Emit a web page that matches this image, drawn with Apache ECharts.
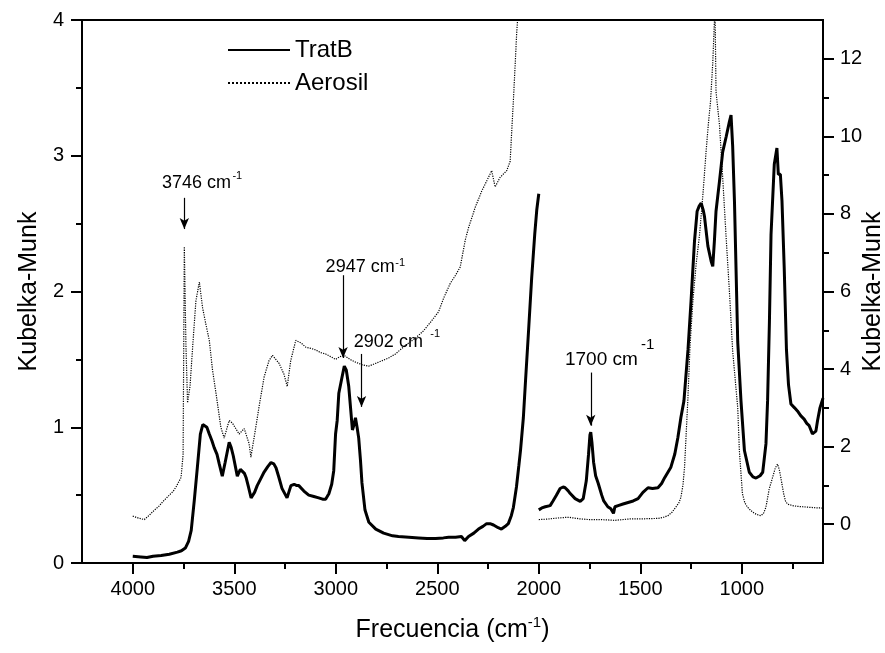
<!DOCTYPE html>
<html><head><meta charset="utf-8">
<script src="https://cdn.jsdelivr.net/npm/echarts@6/dist/echarts.min.js"></script>
<style>html,body{margin:0;padding:0;background:#fff}#c{width:885px;height:653px}</style>
</head><body><div id="c"></div>
<script>
// ---- TratB, 4000-2000 cm-1 (left axis)
const tratbHighWn = [4000,3960,3930,3900,3860,3820,3780,3760,3741,3725,3712,3697,3682,3667,3655,3648,3635,3623,3610,3599,3585,3574,3559,3545,3525,3515,3505,3485,3470,3462,3450,3442,3430,3417,3400,3387,3370,3353,3335,3319,3305,3294,3280,3265,3240,3221,3205,3192,3182,3157,3133,3108,3084,3065,3050,3034,3020,3010,3001,2993,2985,2969,2958,2948,2936,2918,2910,2903,2895,2887,2878,2871,2856,2837,2803,2764,2720,2691,2640,2592,2550,2508,2470,2444,2410,2381,2365,2346,2320,2297,2275,2257,2240,2223,2200,2184,2165,2150,2135,2125,2110,2098,2090,2076,2065,2050,2035,2020,2010,2000];
const tratbHighKM = [0.05,0.045,0.04,0.05,0.055,0.065,0.08,0.09,0.11,0.16,0.24,0.46,0.70,0.95,1.02,1.03,1.0,0.95,0.9,0.85,0.8,0.73,0.64,0.74,0.89,0.85,0.79,0.64,0.69,0.70,0.66,0.63,0.56,0.48,0.52,0.57,0.62,0.67,0.71,0.74,0.73,0.70,0.63,0.55,0.48,0.57,0.58,0.57,0.57,0.53,0.50,0.49,0.48,0.47,0.47,0.51,0.58,0.68,0.95,1.05,1.25,1.37,1.45,1.42,1.30,0.98,1.02,1.07,1.0,0.92,0.75,0.59,0.39,0.30,0.25,0.22,0.20,0.195,0.19,0.185,0.18,0.18,0.185,0.19,0.19,0.195,0.165,0.195,0.22,0.25,0.27,0.29,0.29,0.28,0.26,0.25,0.27,0.29,0.35,0.41,0.56,0.72,0.83,1.07,1.35,1.72,2.1,2.42,2.6,2.72];
// ---- TratB, 2000-600 cm-1 (right axis)
const tratbLowWn = [2000,1985,1968,1944,1930,1914,1895,1880,1870,1855,1845,1821,1796,1781,1766,1755,1748,1744,1738,1730,1720,1707,1690,1680,1660,1645,1632,1625,1609,1585,1560,1535,1511,1487,1462,1440,1413,1395,1380,1350,1330,1315,1300,1285,1265,1250,1233,1220,1210,1200,1190,1184,1167,1151,1143,1135,1127,1110,1094,1077,1061,1053,1045,1036,1028,1020,1004,987,963,945,930,910,897,881,873,864,856,840,827,820,810,802,791,780,770,758,740,726,710,693,680,668,652,644,635,627,615,600];
const tratbLowKM = [0.37,0.42,0.45,0.48,0.6,0.74,0.92,0.96,0.94,0.86,0.79,0.66,0.59,0.66,1.12,1.8,2.3,2.37,2.1,1.6,1.25,1.05,0.75,0.6,0.45,0.4,0.28,0.45,0.48,0.52,0.56,0.6,0.66,0.82,0.94,0.92,0.94,1.05,1.2,1.46,1.81,2.23,2.75,3.18,4.5,5.75,7.3,8.07,8.2,8.28,8.1,7.94,7.17,6.78,6.65,7.3,8.07,8.84,9.6,9.99,10.38,10.55,9.75,8.3,6.5,4.7,3.18,1.9,1.34,1.22,1.19,1.25,1.34,2.07,3.18,5.2,7.47,9.28,9.7,9.02,9.02,8.33,6.6,4.5,3.6,3.1,3.0,2.92,2.8,2.71,2.6,2.54,2.33,2.36,2.4,2.67,3.0,3.25];
// ---- Aerosil, 4000-2090 cm-1 (left axis)
const aeroHighWn = [4000,3970,3943,3920,3893,3870,3853,3820,3800,3787,3762,3752,3746,3738,3730,3718,3705,3689,3672,3656,3640,3623,3607,3590,3566,3550,3525,3509,3476,3451,3427,3418,3394,3378,3353,3329,3312,3279,3255,3239,3222,3197,3170,3148,3120,3099,3075,3050,3025,3001,2980,2960,2930,2903,2870,2838,2805,2772,2740,2706,2675,2641,2605,2568,2530,2494,2469,2436,2410,2387,2362,2346,2313,2281,2248,2232,2215,2191,2158,2141,2134,2125,2117,2109,2100,2090];
const aeroHighKM = [0.345,0.33,0.32,0.35,0.39,0.42,0.45,0.50,0.53,0.56,0.63,0.8,2.33,1.6,1.18,1.3,1.59,1.93,2.07,1.88,1.76,1.64,1.42,1.25,1.0,0.92,1.05,1.03,0.95,0.99,0.88,0.78,1.0,1.15,1.37,1.49,1.53,1.47,1.39,1.30,1.49,1.64,1.62,1.59,1.58,1.57,1.55,1.54,1.52,1.50,1.52,1.53,1.5,1.48,1.46,1.45,1.47,1.49,1.51,1.54,1.58,1.62,1.66,1.71,1.78,1.85,1.95,2.06,2.12,2.18,2.38,2.47,2.62,2.74,2.84,2.89,2.77,2.84,2.89,2.96,3.16,3.41,3.65,3.90,4.1,4.4];
// ---- Aerosil, 2000-600 cm-1 (right axis)
const aeroLowWn = [2000,1960,1905,1855,1800,1757,1707,1660,1625,1545,1480,1413,1385,1364,1345,1325,1310,1300,1290,1282,1274,1266,1255,1241,1225,1208,1190,1176,1165,1154,1143,1135,1132,1127,1110,1094,1078,1061,1045,1020,1012,997,985,972,955,938,920,906,893,881,865,848,835,824,815,808,794,785,775,750,726,700,678,650,628,610,600];
const aeroLowKM = [0.12,0.13,0.16,0.18,0.14,0.12,0.12,0.11,0.10,0.14,0.14,0.15,0.18,0.22,0.3,0.44,0.55,0.69,1.0,1.47,2.33,3.18,4.6,5.75,6.7,7.47,8.6,9.6,10.3,10.9,11.9,12.95,13.4,11.15,10.3,8.93,7.47,6.0,4.47,3.0,1.9,0.79,0.55,0.44,0.35,0.28,0.24,0.22,0.28,0.44,0.91,1.21,1.45,1.55,1.4,1.21,0.79,0.6,0.52,0.48,0.46,0.45,0.44,0.43,0.42,0.42,0.41];
// ---- ticks
const xMajorTicks = [1000,1500,2000,2500,3000,3500,4000];
const xMinorTicks = [750,1250,1750,2250,2750,3250,3750];
const rightMajorTicks = [0,2,4,6,8,10,12];
const rightMinorTicks = [1,3,5,7,9,11];
const seriesNames = ['TratB','Aerosil'];

const zip = (a,b) => a.map((v,i)=>[v,b[i]]);
const FONT = "'Liberation Sans', Arial, Helvetica, sans-serif";
const black = '#000';
const plain = v => String(v);

const chart = echarts.init(document.getElementById('c'), null, {renderer:'canvas'});
const thick = {color:black, width:3};
const dotted = {color:black, width:1.2, type:'dotted'};
const arrowStyle = {silent:true, symbol:['none','arrow'], symbolSize:[7,11], lineStyle:{color:black,width:1.2,type:'solid'}, label:{show:false}, emphasis:{disabled:true}};

chart.setOption({
  animation:false,
  backgroundColor:'#fff',
  textStyle:{fontFamily:FONT, color:black},
  grid:{left:82, right:62, top:20, bottom:90, outerBoundsMode:'none', containLabel:false, show:true, borderColor:black, borderWidth:2, backgroundColor:'transparent'},
  legend:{data:seriesNames, orient:'vertical', left:222, top:33, itemWidth:62, itemHeight:14, itemGap:9,
    itemStyle:{opacity:0, borderWidth:0},
    textStyle:{fontSize:24, color:black, fontFamily:FONT}, selectedMode:false},
  xAxis:[
    {type:'value', min:600, max:4250, inverse:true, position:'bottom',
     axisLine:{show:true, onZero:false, lineStyle:{color:black,width:2}},
     axisTick:{show:true, customValues:xMajorTicks, length:11, lineStyle:{color:black,width:2}},
     axisLabel:{customValues:xMajorTicks, formatter:plain, fontSize:20, color:black, margin:16, fontFamily:FONT},
     splitLine:{show:false},
     name:'{a|Frecuencia (cm}{s|-1}{a|)}', nameLocation:'middle', nameGap:52,
     nameTextStyle:{rich:{a:{fontSize:25, lineHeight:30, color:black, fontFamily:FONT}, s:{fontSize:15, lineHeight:14, verticalAlign:'top', color:black, fontFamily:FONT}}}},
    {type:'value', min:600, max:4250, inverse:true, position:'bottom',
     axisLine:{show:false, onZero:false},
     axisTick:{show:true, customValues:xMinorTicks, length:6, lineStyle:{color:black,width:2}},
     axisLabel:{show:false}, splitLine:{show:false}}
  ],
  yAxis:[
    {type:'value', min:0, max:4, interval:1, position:'left',
     axisLine:{show:true, onZero:false, lineStyle:{color:black,width:2}},
     axisTick:{show:true, length:11, lineStyle:{color:black,width:2}},
     minorTick:{show:true, splitNumber:2, length:6, lineStyle:{color:black,width:2}},
     axisLabel:{formatter:plain, fontSize:20, color:black, margin:18, fontFamily:FONT},
     splitLine:{show:false},
     name:'Kubelka-Munk', nameLocation:'middle', nameGap:39, nameRotate:90,
     nameTextStyle:{fontSize:25, color:black, fontFamily:FONT}},
    {type:'value', min:-1, max:13, position:'right',
     axisLine:{show:true, onZero:false, lineStyle:{color:black,width:2}},
     axisTick:{show:true, customValues:rightMajorTicks, length:11, lineStyle:{color:black,width:2}},
     axisLabel:{customValues:rightMajorTicks, formatter:plain, fontSize:20, color:black, margin:17, fontFamily:FONT},
     splitLine:{show:false}},
    {type:'value', min:-1, max:13, position:'right',
     axisLine:{show:false, onZero:false},
     axisTick:{show:true, customValues:rightMinorTicks, length:6, lineStyle:{color:black,width:2}},
     axisLabel:{show:false}, splitLine:{show:false}}
  ],
  series:[
    {name:'TratB', type:'line', xAxisIndex:0, yAxisIndex:0, data:zip(tratbHighWn,tratbHighKM), symbol:'none', lineStyle:thick, itemStyle:{color:black}, z:3,
     markLine:Object.assign({data:[
       [{coord:[3746,2.69]},{coord:[3746,2.46]}],
       [{coord:[2964,2.12]},{coord:[2964,1.51]}],
       [{coord:[2873,1.54]},{coord:[2873,1.15]}]
     ]}, arrowStyle)},
    {name:'TratB', type:'line', xAxisIndex:0, yAxisIndex:1, data:zip(tratbLowWn,tratbLowKM), symbol:'none', lineStyle:thick, itemStyle:{color:black}, z:3,
     markLine:Object.assign({data:[
       [{coord:[1744,3.91]},{coord:[1744,2.54]}]
     ]}, arrowStyle)},
    {name:'Aerosil', type:'line', xAxisIndex:0, yAxisIndex:0, data:zip(aeroHighWn,aeroHighKM), symbol:'none', lineStyle:dotted, itemStyle:{color:black}, z:2},
    {name:'Aerosil', type:'line', xAxisIndex:0, yAxisIndex:1, data:zip(aeroLowWn,aeroLowKM), symbol:'none', lineStyle:dotted, itemStyle:{color:black}, z:2}
  ]
});

// annotation texts placed in data space (wavenumber, left-axis value)
const notes = [
  {t:'3746 cm', wn:3856, v:2.80, fs:18}, {t:'-1', wn:3509, v:2.85, fs:11},
  {t:'2947 cm', wn:3050, v:2.18, fs:18}, {t:'-1', wn:2707, v:2.21, fs:11},
  {t:'2902 cm', wn:2911, v:1.63, fs:18}, {t:'-1', wn:2534, v:1.685, fs:11},
  {t:'1700 cm', wn:1871, v:1.50, fs:19}, {t:'-1', wn:1497, v:1.61, fs:15}
];
const graphics = notes.map(n => {
  const p = chart.convertToPixel({xAxisIndex:0, yAxisIndex:0}, [n.wn, n.v]);
  return {type:'text', x:p[0], y:p[1], z:10, silent:true,
    style:{text:n.t, fill:black, font:n.fs+'px '+FONT, textAlign:'left', textVerticalAlign:'middle'}};
});
// right axis title, placed beside the right axis line
const edge = chart.convertToPixel({xAxisIndex:0, yAxisIndex:0}, [600, 2]);
graphics.push({type:'text', x:edge[0] + 50, y:edge[1], rotation:Math.PI/2, silent:true,
  style:{text:'Kubelka-Munk', fill:black, font:'25px '+FONT, textAlign:'center', textVerticalAlign:'middle'}});
chart.setOption({graphic: graphics});
</script></body></html>
